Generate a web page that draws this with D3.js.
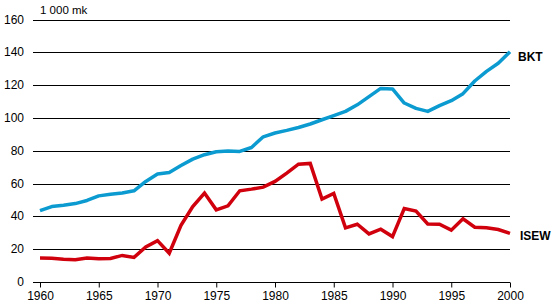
<!DOCTYPE html>
<html>
<head>
<meta charset="utf-8">
<script src="https://cdn.jsdelivr.net/npm/d3@7"></script>
<style>
  body { margin: 0; background: #fff; }
  svg { display: block; font-family: "Liberation Sans", Arial, sans-serif; }
</style>
</head>
<body>
<svg width="554" height="307"></svg>
<script>
// years 1960-2000
var years = d3.range(1960, 2001);
var bkt = [43.5, 46, 46.8, 47.8, 49.7, 52.5, 53.5, 54.3, 55.6, 61.3,
    65.8, 66.8, 71, 74.9, 77.6, 79.4, 79.8, 79.6, 82, 88.5,
    90.8, 92.4, 94.2, 96.3, 98.9, 101.4, 104, 108, 113, 118,
    117.7, 109.1, 105.8, 104, 107.5, 110.5, 114.8, 122.5, 128.4, 133.3, 140.3];
var isew = [14.6, 14.5, 13.8, 13.6, 14.6, 14.1, 14.3, 16.2, 15, 21.3,
    25.2, 17.5, 34.5, 46, 54.2, 44, 46.4, 55.6, 56.6, 57.8,
    61.3, 66.4, 71.8, 72.3, 50.5, 54, 33, 35.2, 29.3, 32.2,
    27.7, 44.8, 43.2, 35.4, 35.2, 31.6, 38.5, 33.4, 33, 32, 29.6];
var yTicks = [0, 20, 40, 60, 80, 100, 120, 140, 160];
var xTicks = [1960, 1965, 1970, 1975, 1980, 1985, 1990, 1995, 2000];

var svg = d3.select("svg");

var x = d3.scaleLinear().domain([1960, 2000]).range([40, 510]);
var y = d3.scaleLinear().domain([0, 160]).range([282, 19.5]);

// gridlines + left labels
var grid = svg.append("g");
grid.selectAll("line").data(yTicks.slice(1)).enter().append("line")
    .attr("x1", 33).attr("x2", 510)
    .attr("y1", function (d) { return Math.round(y(d)) + 0.5; })
    .attr("y2", function (d) { return Math.round(y(d)) + 0.5; })
    .attr("stroke", "#000").attr("stroke-width", 1);

svg.append("g").selectAll("text").data(yTicks).enter().append("text")
    .attr("x", 24).attr("y", function (d) { return y(d) + 4; })
    .attr("text-anchor", "end").attr("font-size", 12).attr("fill", "#000")
    .text(function (d) { return d; });

// bottom axis
var xAxis = d3.axisBottom(x).tickValues(xTicks).tickSize(5).tickPadding(4).tickFormat(d3.format("d"));
var gx = svg.append("g").attr("transform", "translate(0," + (Math.round(y(0)) + 0.5) + ")").call(xAxis);
gx.select(".domain").attr("d", "M33,0H510");
gx.selectAll("text").attr("font-size", 12).attr("font-family", "Liberation Sans, Arial, sans-serif").attr("fill", "#000");

svg.append("text").attr("x", 40).attr("y", 14).attr("font-size", 11.5).attr("fill", "#000").text("1 000 mk");

var line = d3.line()
    .x(function (d, i) { return x(years[i]); })
    .y(function (d) { return y(d); });

svg.append("path").datum(bkt).attr("d", line)
    .attr("fill", "none").attr("stroke", "#0b9bd0").attr("stroke-width", 3.5)
    .attr("stroke-linejoin", "round");
svg.append("path").datum(isew).attr("d", line)
    .attr("fill", "none").attr("stroke", "#d0000d").attr("stroke-width", 3.5)
    .attr("stroke-linejoin", "miter");

svg.append("text").attr("x", 518).attr("y", 61).attr("font-size", 12).attr("font-weight", "bold").text("BKT");
svg.append("text").attr("x", 520).attr("y", 240).attr("font-size", 12).attr("font-weight", "bold").text("ISEW");
</script>
</body>
</html>
